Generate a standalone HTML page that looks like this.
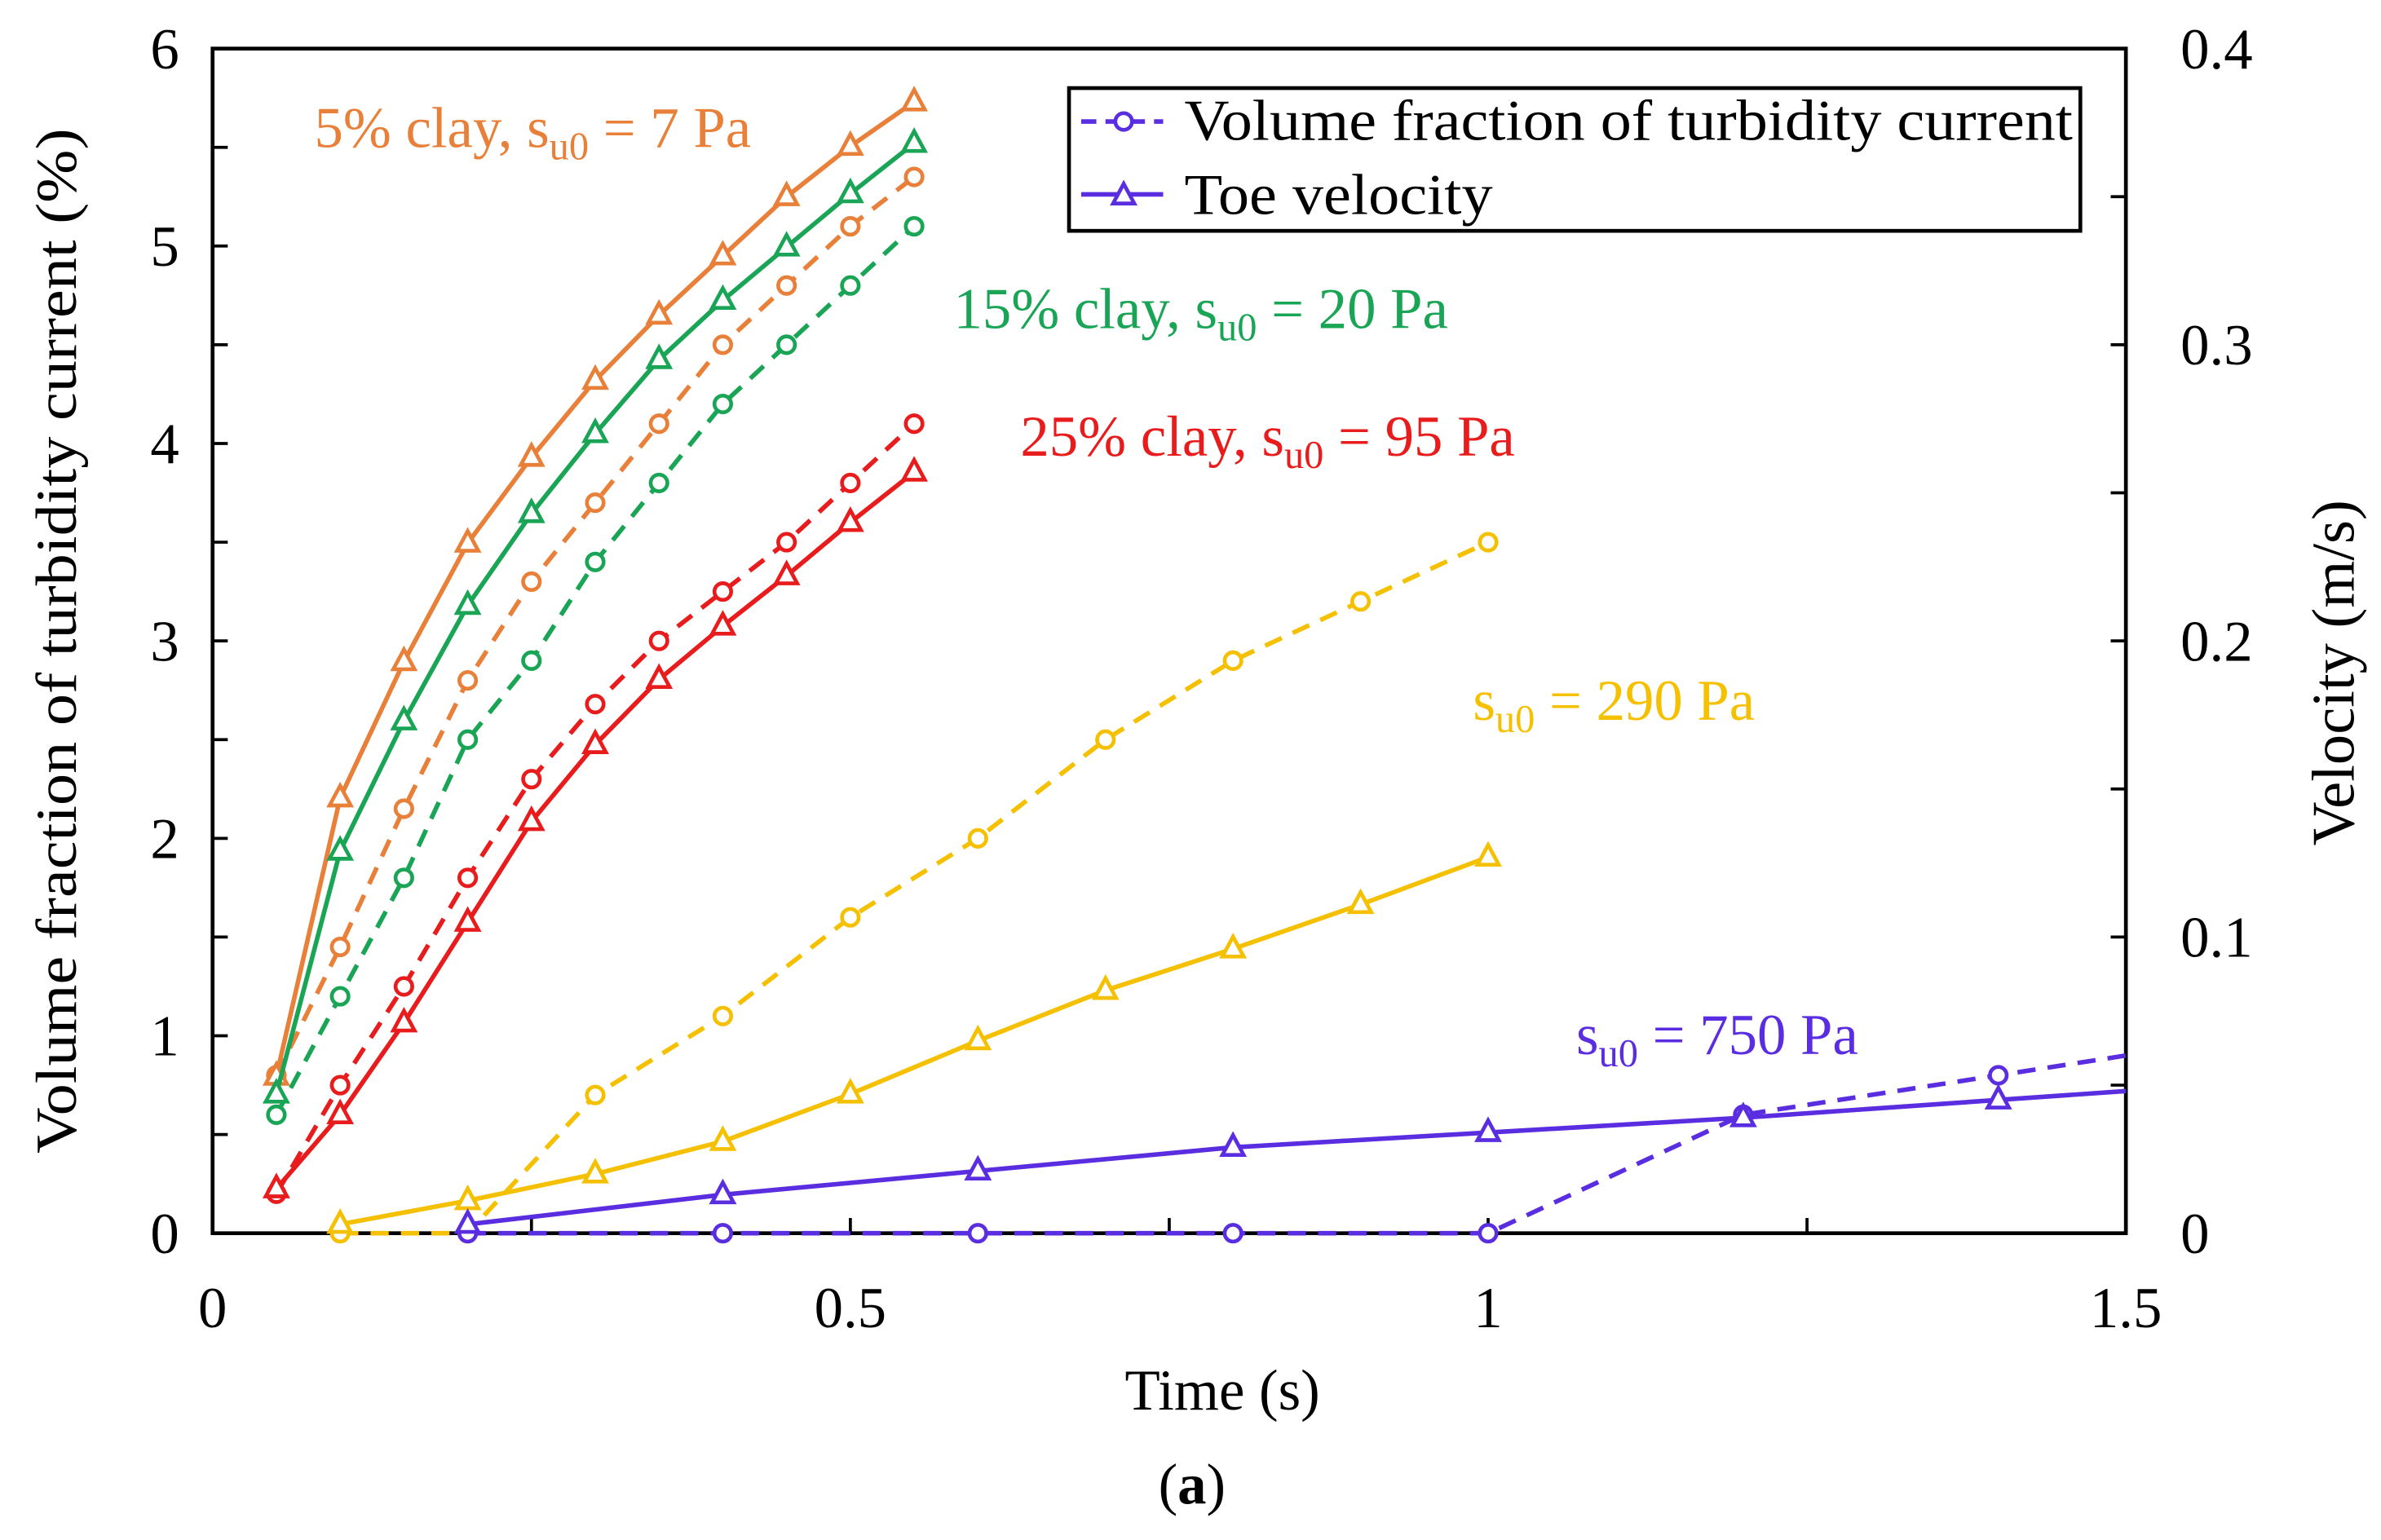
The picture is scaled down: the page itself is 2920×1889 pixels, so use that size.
<!DOCTYPE html>
<html><head><meta charset="utf-8"><style>
html,body{margin:0;padding:0;background:#fff;}
svg{display:block;}
text{font-family:"Liberation Serif",serif;}
</style></head><body>
<svg id="chart" width="2920" height="1889" viewBox="0 0 1568 1014" preserveAspectRatio="none" xmlns="http://www.w3.org/2000/svg">
<g id="axes"></g>
<g id="series"></g>
<g font-size="38">
<text x="207" y="97" fill="#e8803a">5% clay, s<tspan font-size="26" dy="8">u0</tspan><tspan dy="-8"> = 7 Pa</tspan></text>
<text x="628" y="216" fill="#1aa556">15% clay, s<tspan font-size="26" dy="8">u0</tspan><tspan dy="-8"> = 20 Pa</tspan></text>
<text x="672" y="300" fill="#e81c1c">25% clay, s<tspan font-size="26" dy="8">u0</tspan><tspan dy="-8"> = 95 Pa</tspan></text>
<text x="970" y="474" fill="#f5c000">s<tspan font-size="26" dy="8">u0</tspan><tspan dy="-8"> = 290 Pa</tspan></text>
<text x="1038" y="694" fill="#5a2de0">s<tspan font-size="26" dy="8">u0</tspan><tspan dy="-8"> = 750 Pa</tspan></text>
</g>
<g>
<rect x="704" y="58" width="666" height="94" fill="#fff" stroke="#000" stroke-width="2.5"/>
<line x1="712" y1="80" x2="766" y2="80" stroke="#5a2de0" stroke-width="3" stroke-dasharray="10,6"/>
<circle cx="740" cy="80" r="5.5" fill="#fff" stroke="#5a2de0" stroke-width="2.5"/>
<text x="780" y="92" font-size="38" textLength="585" lengthAdjust="spacingAndGlyphs">Volume fraction of turbidity current</text>
<line x1="712" y1="128" x2="766" y2="128" stroke="#5a2de0" stroke-width="3"/>
<path d="M733,134 L747,134 L740,121 Z" fill="#fff" stroke="#5a2de0" stroke-width="2.5"/>
<text x="780" y="141" font-size="38" textLength="203" lengthAdjust="spacingAndGlyphs">Toe velocity</text>
</g>
<text x="805" y="928" font-size="38" text-anchor="middle">Time (s)</text>
<text transform="translate(50,422) rotate(-90)" font-size="38" text-anchor="middle" textLength="675" lengthAdjust="spacingAndGlyphs">Volume fraction of  turbidity current (%)</text>
<text transform="translate(1550,443) rotate(-90)" font-size="40" text-anchor="middle">Velocity (m/s)</text>
<text x="785" y="990" font-size="38" text-anchor="middle">(<tspan font-weight="bold">a</tspan>)</text>
</svg>
<script>
const tA = [0.05,0.1,0.15,0.2,0.25,0.3,0.35,0.4,0.45,0.5,0.55];
const orangeVol = [0.8,1.45,2.15,2.8,3.3,3.7,4.1,4.5,4.8,5.1,5.35];
const orangeVel = [0.053,0.147,0.193,0.233,0.262,0.288,0.31,0.33,0.35,0.367,0.382];
const greenVol = [0.6,1.2,1.8,2.5,2.9,3.4,3.8,4.2,4.5,4.8,5.1];
const greenVel = [0.047,0.129,0.173,0.212,0.243,0.27,0.295,0.315,0.333,0.351,0.368];
const redVol = [0.2,0.75,1.25,1.8,2.3,2.68,3.0,3.25,3.5,3.8,4.1];
const redVel = [0.015,0.04,0.071,0.105,0.139,0.165,0.187,0.205,0.222,0.24,0.257];
const tY = [0.1,0.2,0.3,0.4,0.5,0.6,0.7,0.8,0.9,1.0];
const yellowVol = [0,0,0.7,1.1,1.6,2.0,2.5,2.9,3.2,3.5];
const yellowVel = [0.003,0.011,0.02,0.031,0.047,0.065,0.082,0.096,0.111,0.127];
const tP = [0.2,0.4,0.6,0.8,1.0,1.2,1.4,1.5];
const purpleVol = [0,0,0,0,0,0.6,0.8,0.9];
const purpleVel = [0.003,0.013,0.021,0.029,0.034,0.039,0.045,0.048];
const xTicks = [0,0.5,1,1.5];
const yTicks = [0,1,2,3,4,5,6];
const y2Ticks = [0,0.1,0.2,0.3,0.4];

const X0=140,X1=1400,YB=812,YT=32;
const sx=t=>X0+(t/1.5)*(X1-X0);
const sy=v=>YB-(v/6)*(YB-YT);
const sy2=v=>YB-(v/0.4)*(YB-YT);
const NS="http://www.w3.org/2000/svg";
function mk(tag,attrs,parent){const e=document.createElementNS(NS,tag);for(const k in attrs)e.setAttribute(k,attrs[k]);parent.appendChild(e);return e;}
const ax=document.getElementById('axes');
const fr=mk('rect',{x:X0,y:YT,width:X1-X0,height:YB-YT,fill:'none',stroke:'#000','stroke-width':2.5},ax);


for(let t=0.25;t<1.5;t+=0.25){mk('line',{x1:sx(t),x2:sx(t),y1:YB,y2:YB-10,stroke:'#000','stroke-width':2},ax);}
for(let v=0.5;v<6;v+=0.5){mk('line',{x1:X0,x2:X0+10,y1:sy(v),y2:sy(v),stroke:'#000','stroke-width':2},ax);}
for(let v=0.05;v<0.4;v+=0.05){mk('line',{x1:X1,x2:X1-10,y1:sy2(v),y2:sy2(v),stroke:'#000','stroke-width':2},ax);}
xTicks.forEach(t=>{const e=mk('text',{x:sx(t),y:YB+62,'font-size':38,'text-anchor':'middle'},ax);e.textContent=t;

});
yTicks.forEach(v=>{const e=mk('text',{x:X0-22,y:sy(v)+13,'font-size':38,'text-anchor':'end'},ax);e.textContent=v;

});
y2Ticks.forEach(v=>{const e=mk('text',{x:X1+36,y:sy2(v)+13,'font-size':38},ax);e.textContent=v;

});
const sg=document.getElementById('series');
function series(ts,vals,scale,color,dashed,marker,name,nMark){
  const pts=ts.map((t,i)=>sx(t)+','+scale(vals[i])).join(' ');
  const pl=mk('polyline',{points:pts,fill:'none',stroke:color,'stroke-width':3,'stroke-dasharray':dashed?'12,8':'none'},sg);
  
  
  const n=nMark==null?ts.length:nMark;
  for(let i=0;i<n;i++){
    const x=sx(ts[i]),y=scale(vals[i]);let m;
    if(marker==='c'){m=mk('circle',{cx:x,cy:y,r:5.5,fill:'#fff',stroke:color,'stroke-width':2.5},sg);}
    else{m=mk('path',{d:`M${x-7},${y+5} L${x+7},${y+5} L${x},${y-8} Z`,fill:'#fff',stroke:color,'stroke-width':2.5},sg);}
    
    
  }
}
series(tA,orangeVol,sy,'#e8803a',true,'c','orange-volume');
series(tA,orangeVel,sy2,'#e8803a',false,'t','orange-velocity');
series(tA,greenVol,sy,'#1aa556',true,'c','green-volume');
series(tA,greenVel,sy2,'#1aa556',false,'t','green-velocity');
series(tA,redVol,sy,'#e81c1c',true,'c','red-volume');
series(tA,redVel,sy2,'#e81c1c',false,'t','red-velocity');
series(tY,yellowVol,sy,'#f5c000',true,'c','yellow-volume');
series(tY,yellowVel,sy2,'#f5c000',false,'t','yellow-velocity');
series(tP,purpleVol,sy,'#5a2de0',true,'c','purple-volume',7);
series(tP,purpleVel,sy2,'#5a2de0',false,'t','purple-velocity',7);
</script>
</body></html>
